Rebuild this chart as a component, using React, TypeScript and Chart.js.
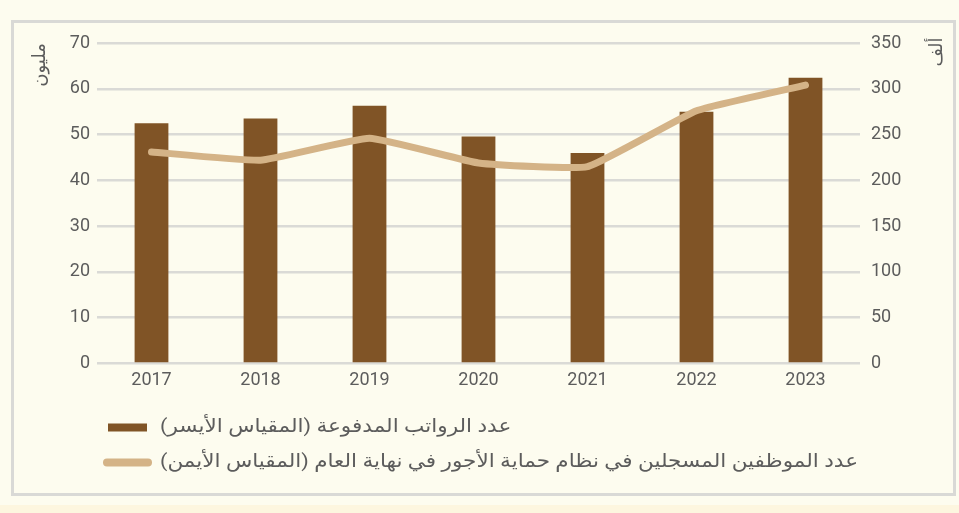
import React, { useEffect, useRef } from "react";
import { Chart, registerables } from "chart.js";

Chart.register(...registerables);

const years = ["2017", "2018", "2019", "2020", "2021", "2022", "2023"];
const salariesPaid = [52.5, 53.5, 56.3, 49.6, 46.0, 55.0, 62.4];
const employeesRegistered = [231, 222, 246, 219, 215, 276, 304];
const barLabel = "عدد الرواتب المدفوعة (المقياس الأيسر)";
const lineLabel = "عدد الموظفين المسجلين في نظام حماية الأجور في نهاية العام (المقياس الأيمن)";
const leftTitle = "مليون";
const rightTitle = "ألف";

const BAR_COLOR = "#805426";
const LINE_COLOR = "#d4b387";
const TEXT_COLOR = "#5c5c5c";
const GRID_COLOR = "#dadad6";
const FONT = "Roboto, 'DejaVu Sans', sans-serif";

const overlayPlugin = {
  id: "overlay",
  afterDraw(chart: any) {
    const ctx = chart.ctx as CanvasRenderingContext2D;
    const area = chart.chartArea;
    ctx.save();
    // axis titles
    ctx.fillStyle = TEXT_COLOR;
    ctx.font = `18px ${FONT}`;
    ctx.textAlign = "center";
    ctx.textBaseline = "middle";
    ctx.direction = "rtl";
    ctx.save();
    ctx.translate(area.left - 57, area.top + 22);
    ctx.rotate(-Math.PI / 2);
    ctx.fillText(leftTitle, 0, 0);
    ctx.restore();
    ctx.save();
    ctx.translate(area.right + 77, area.top + 9);
    ctx.rotate(-Math.PI / 2);
    ctx.fillText(rightTitle, 0, 0);
    ctx.restore();

    // legend
    const rows = [
      { label: chart.data.datasets[0].label, type: "bar", color: chart.data.datasets[0].backgroundColor },
      { label: chart.data.datasets[1].label, type: "line", color: chart.data.datasets[1].borderColor },
    ];
    const baseX = area.left + 11;
    const textX = baseX + 52;
    ctx.font = `19px ${FONT}`;
    const longest = ctx.measureText(rows[1].label).width;
    const targetWidth = area.right - 2 - textX;
    const sx = longest > 0 ? targetWidth / longest : 1;
    rows.forEach((r, i) => {
      const y = area.bottom + 64 + i * 35;
      if (r.type === "bar") {
        ctx.fillStyle = r.color;
        ctx.fillRect(baseX, y - 4, 39, 8);
      } else {
        ctx.strokeStyle = r.color;
        ctx.lineWidth = 8;
        ctx.lineCap = "round";
        ctx.beginPath();
        ctx.moveTo(baseX - 1, y);
        ctx.lineTo(baseX + 40, y);
        ctx.stroke();
      }
      ctx.save();
      ctx.fillStyle = TEXT_COLOR;
      ctx.font = `19px ${FONT}`;
      ctx.textAlign = "left";
      ctx.textBaseline = "middle";
      ctx.translate(textX, y);
      ctx.scale(sx, 1);
      ctx.fillText(r.label, 0, 0);
      ctx.restore();
    });
    ctx.restore();
  },
};

export default function App() {
  const canvasRef = useRef<HTMLCanvasElement | null>(null);

  useEffect(() => {
    if (!canvasRef.current) return;
    const chart = new Chart(canvasRef.current, {
      type: "bar",
      data: {
        labels: years,
        datasets: [
          {
            type: "bar",
            label: barLabel,
            data: salariesPaid,
            backgroundColor: BAR_COLOR,
            yAxisID: "y",
            barPercentage: 0.31,
            categoryPercentage: 1,
            order: 2,
          },
          {
            type: "line",
            label: lineLabel,
            data: employeesRegistered,
            borderColor: LINE_COLOR,
            backgroundColor: LINE_COLOR,
            borderWidth: 7,
            borderCapStyle: "round",
            borderJoinStyle: "round",
            pointRadius: 0,
            tension: 0.12,
            yAxisID: "y1",
            order: 1,
          },
        ] as any,
      },
      options: {
        animation: false,
        responsive: false,
        maintainAspectRatio: false,
        layout: { padding: { top: 43, left: 0, right: 0, bottom: 119.5 } },
        plugins: { legend: { display: false }, tooltip: { enabled: false } },
        scales: {
          x: {
            grid: { display: false, drawTicks: false },
            border: { display: false },
            ticks: { color: TEXT_COLOR, font: { size: 18, family: FONT }, padding: 6 },
            afterFit(scale: any) {
              scale.height = 30;
            },
          },
          y: {
            position: "left",
            min: 0,
            max: 70,
            ticks: { stepSize: 10, color: TEXT_COLOR, font: { size: 18, family: FONT }, padding: 7 },
            grid: { color: GRID_COLOR, lineWidth: 2.5, drawTicks: false },
            border: { display: false },
            afterFit(scale: any) {
              scale.width = 97;
            },
          },
          y1: {
            position: "right",
            min: 0,
            max: 350,
            ticks: { stepSize: 50, color: TEXT_COLOR, font: { size: 18, family: FONT }, padding: 11 },
            grid: { display: false, drawTicks: false },
            border: { display: false },
            afterFit(scale: any) {
              scale.width = 99;
            },
          },
        },
      },
      plugins: [overlayPlugin],
    });
    return () => chart.destroy();
  }, []);

  return (
    <div
      style={{
        position: "fixed",
        left: 0,
        top: 0,
        width: 959,
        height: 513,
        background: "#fdfcef",
        overflow: "hidden",
      }}
    >
      <div
        style={{
          position: "absolute",
          left: 0,
          top: 505,
          width: 959,
          height: 8,
          background: "#fdf6df",
        }}
      />
      <div
        style={{
          position: "absolute",
          left: 11,
          top: 20,
          width: 939,
          height: 470,
          border: "3px solid #d9d9d6",
        }}
      />
      <canvas
        ref={canvasRef}
        width={959}
        height={513}
        style={{ position: "absolute", left: 0, top: 0, width: 959, height: 513 }}
      />
    </div>
  );
}
